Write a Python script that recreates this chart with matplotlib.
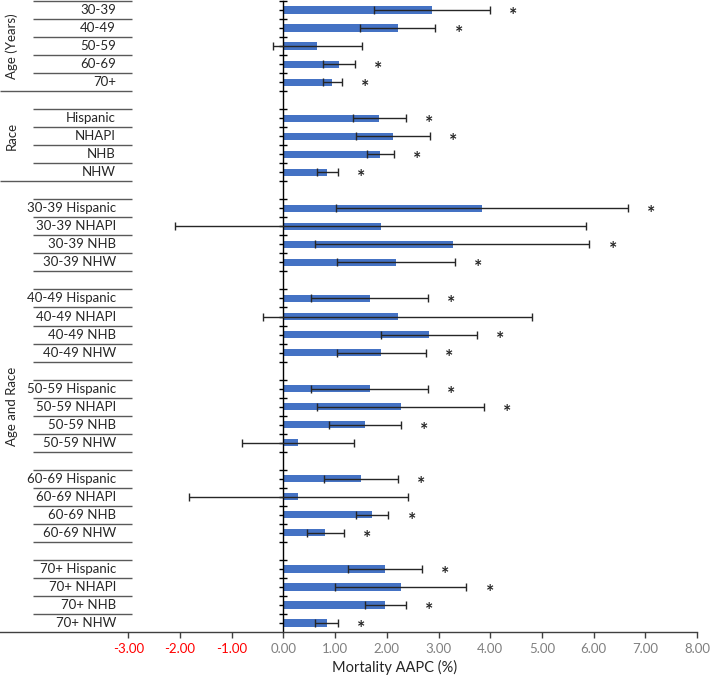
import matplotlib.pyplot as plt

plt.rcParams['font.family'] = ['Lato', 'DejaVu Sans']

# AAPC (%) with 95% CI, * = significant
age_labels = ["30-39", "40-49", "50-59", "60-69", "70+"]
age_aapc = [2.87, 2.21, 0.65, 1.07, 0.94]
age_lo = [1.76, 1.48, -0.21, 0.76, 0.76]
age_hi = [4.00, 2.94, 1.51, 1.39, 1.13]
age_sig = [True, True, False, True, True]

race_labels = ["Hispanic", "NHAPI", "NHB", "NHW"]
race_aapc = [1.85, 2.11, 1.87, 0.85]
race_lo = [1.34, 1.41, 1.61, 0.65]
race_hi = [2.37, 2.83, 2.13, 1.05]
race_sig = [True, True, True, True]

ar_labels = ["30-39 Hispanic", "30-39 NHAPI", "30-39 NHB", "30-39 NHW",
             "40-49 Hispanic", "40-49 NHAPI", "40-49 NHB", "40-49 NHW",
             "50-59 Hispanic", "50-59 NHAPI", "50-59 NHB", "50-59 NHW",
             "60-69 Hispanic", "60-69 NHAPI", "60-69 NHB", "60-69 NHW",
             "70+ Hispanic", "70+ NHAPI", "70+ NHB", "70+ NHW"]
ar_aapc = [3.85, 1.88, 3.28, 2.18,
           1.67, 2.21, 2.81, 1.89,
           1.67, 2.27, 1.57, 0.28,
           1.50, 0.29, 1.72, 0.81,
           1.97, 2.27, 1.97, 0.84]
ar_lo = [1.02, -2.10, 0.62, 1.04,
         0.54, -0.39, 1.88, 1.03,
         0.54, 0.65, 0.88, -0.80,
         0.79, -1.83, 1.40, 0.45,
         1.25, 1.00, 1.58, 0.61]
ar_hi = [6.66, 5.85, 5.92, 3.31,
         2.79, 4.81, 3.74, 2.76,
         2.80, 3.88, 2.27, 1.36,
         2.21, 2.41, 2.03, 1.17,
         2.68, 3.54, 2.37, 1.05]
ar_sig = [True, False, True, True,
          True, False, True, True,
          True, True, True, False,
          True, False, True, True,
          True, True, True, True]

xticks = [-3, -2, -1, 0, 1, 2, 3, 4, 5, 6, 7, 8]

# row positions (blank spacer rows between groups)
age_y = list(range(0, 5))
race_y = list(range(6, 10))
ar_y = [11 + i + i // 4 for i in range(len(ar_labels))]

labels = age_labels + race_labels + ar_labels
ys = age_y + race_y + ar_y
aapc = age_aapc + race_aapc + ar_aapc
lo = age_lo + race_lo + ar_lo
hi = age_hi + race_hi + ar_hi
sig = age_sig + race_sig + ar_sig

fig = plt.figure(figsize=(7.10, 6.76), dpi=100)
ax = fig.add_axes([0.0, 0.0651, 697 / 710, 0.9334])

ax.barh(ys, aapc, height=0.4, color='#4472C4', zorder=2)
xerr = [[a - l for a, l in zip(aapc, lo)], [h - a for a, h in zip(aapc, hi)]]
ax.errorbar(aapc, ys, xerr=xerr, fmt='none', ecolor='#262626', elinewidth=1.0,
            capsize=2.6, capthick=1.0, zorder=3)

for y, h, s in zip(ys, hi, sig):
    if s:
        ax.text(h + 0.45, y + 0.3, '*', fontsize=14, fontweight='bold',
                ha='center', va='center', color='#262626')

ax.set_xlim(-5.483, 8)
ax.set_ylim(34.5, -0.5)

for sp in ['top', 'right']:
    ax.spines[sp].set_visible(False)
ax.spines['left'].set_position(('data', 0))
ax.spines['left'].set_color('black')
ax.spines['left'].set_linewidth(1.0)
ax.spines['bottom'].set_color('#404040')
ax.spines['bottom'].set_linewidth(1.0)

ax.set_yticks(ys)
ax.set_yticks([k + 0.5 for k in range(-1, 34)], minor=True)
ax.tick_params(axis='y', which='both', direction='inout', length=6, width=1.0,
               color='black', labelleft=False)

ax.set_xticks(xticks)
ax.set_xticklabels([f"{t:.2f}" for t in xticks])
ax.tick_params(axis='x', direction='out', length=4, width=1.0, color='#404040',
               labelsize=9.5, labelcolor='#808080', pad=4)
for t, lab in zip(xticks, ax.get_xticklabels()):
    if t < 0:
        lab.set_color('red')

ax.text(2.15, -0.0555, 'Mortality AAPC (%)', transform=ax.get_xaxis_transform(),
        ha='center', va='center', fontsize=10.5, color='#262626')

# left table: row labels, separators and group titles
tr = ax.get_yaxis_transform()
lab_x = 116 / 697
line_x0 = 33 / 697
line_x1 = 132 / 697
for y, lab in zip(ys, labels):
    ax.text(lab_x, y, lab, transform=tr, ha='right', va='center', fontsize=9.5, color='#262626')

full_rows = [4.5, 9.5]
for k in range(-1, 34):
    yl = k + 0.5
    x0 = 0 if yl in full_rows else line_x0
    ax.plot([x0, line_x1], [yl, yl], transform=tr, color='#595959', lw=1.0,
            clip_on=False, solid_capstyle='butt')

group_titles = ["Age (Years)", "Race", "Age and Race"]
group_mid = [2, 7, 22]
for t, m in zip(group_titles, group_mid):
    ax.text(12 / 697, m, t, transform=tr, rotation=90, ha='center', va='center',
            fontsize=9.5, color='#262626')

fig.savefig('out.png', dpi=100)
